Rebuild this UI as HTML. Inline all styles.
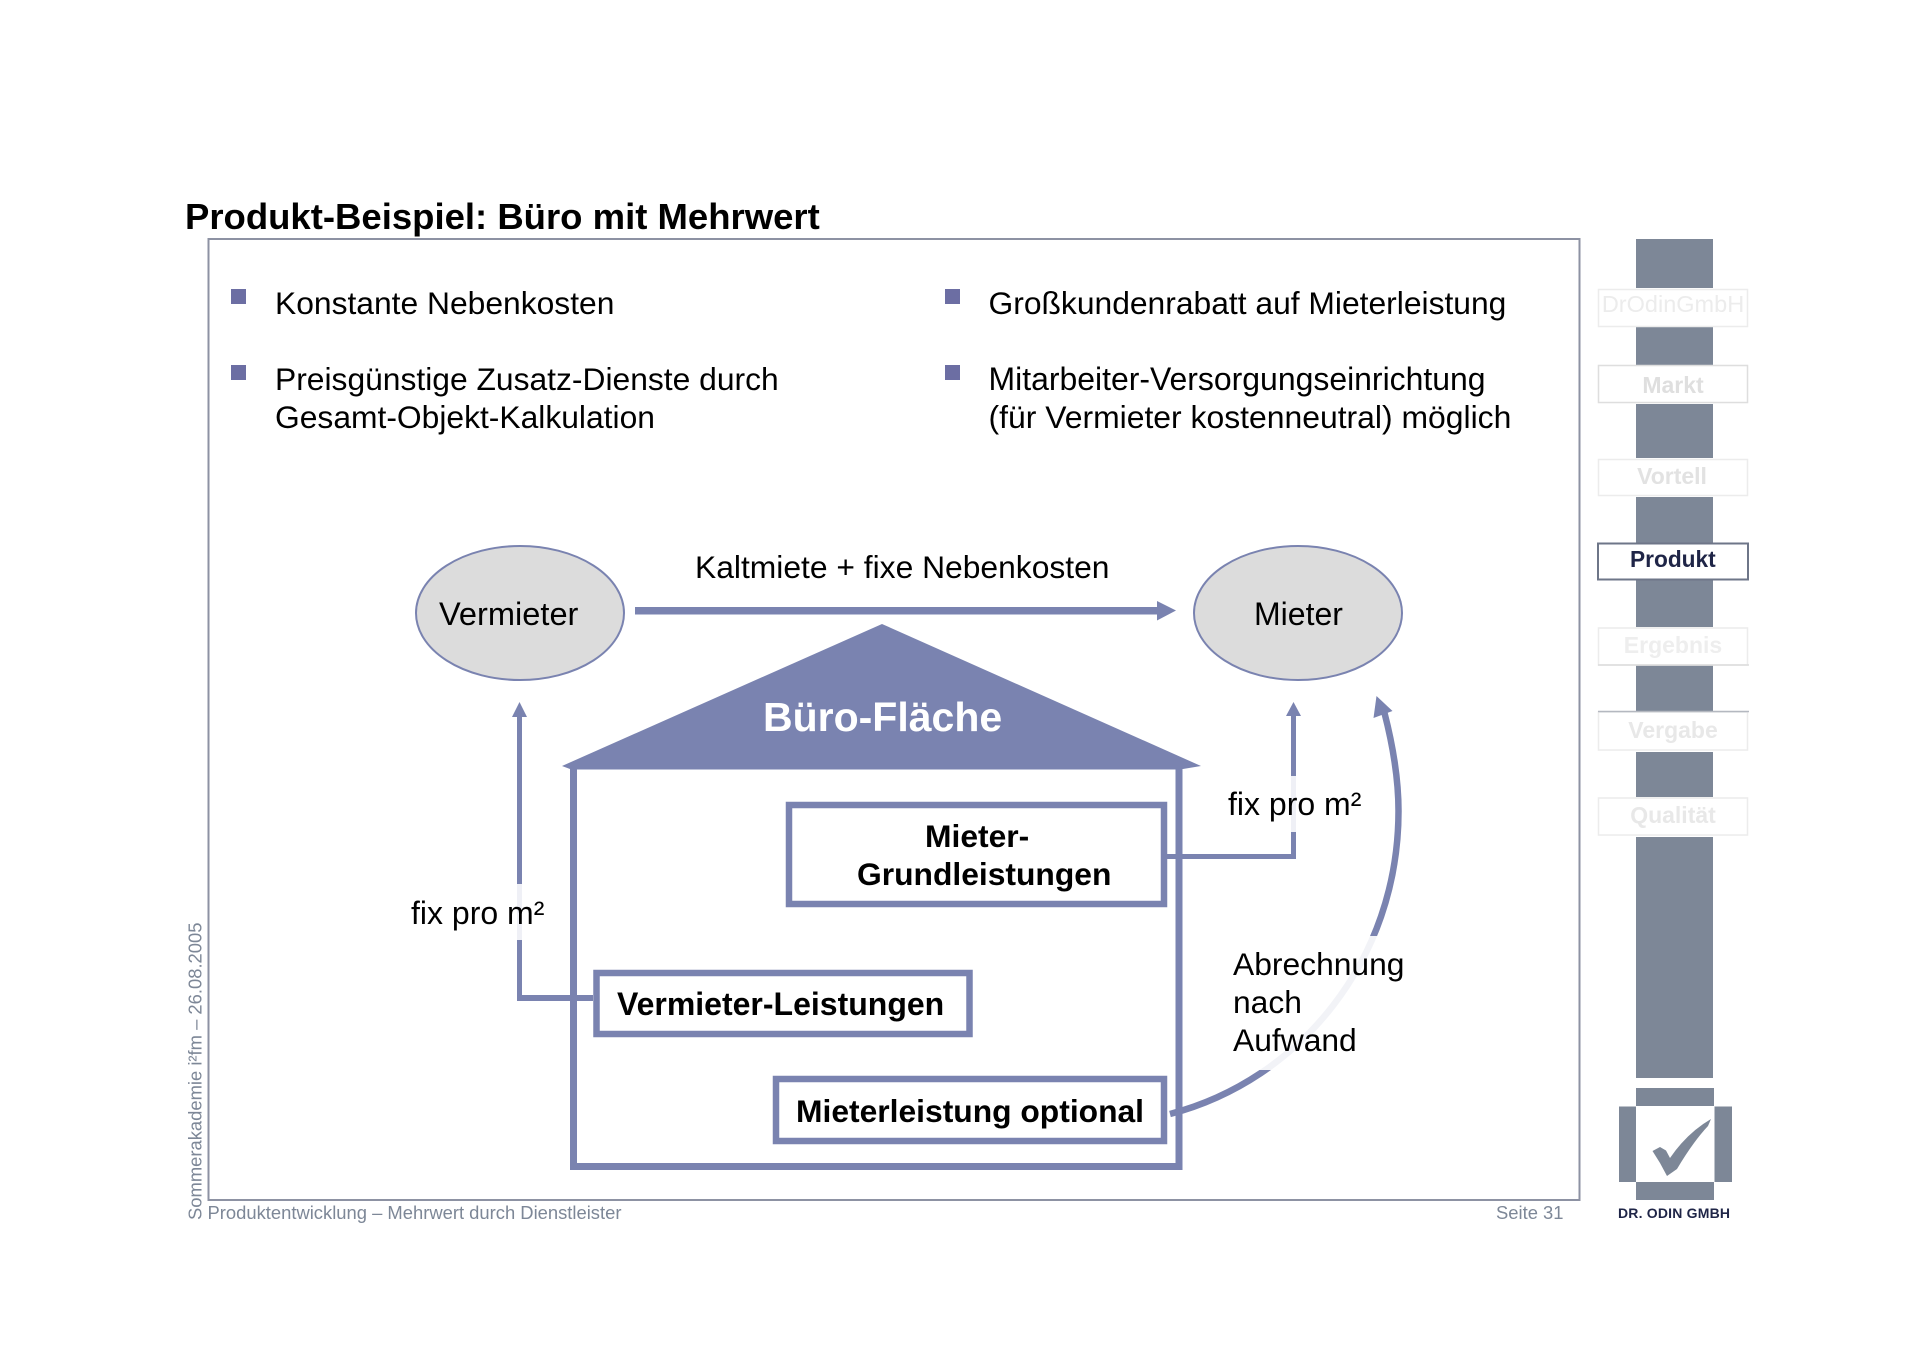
<!DOCTYPE html>
<html lang="de">
<head>
<meta charset="utf-8">
<title>Produkt-Beispiel: Büro mit Mehrwert</title>
<style>
html,body{margin:0;padding:0;background:#fff;width:1920px;height:1357px;overflow:hidden}
svg{display:block}
text{font-family:"Liberation Sans",Arial,sans-serif;fill:#000}
.b{font-weight:bold}
.t{font-size:31.8px}
.g{fill:#7d8797}
.f{font-size:23px;font-weight:bold;fill:#e6e6e6;text-anchor:middle}
</style>
</head>
<body>
<svg width="1920" height="1357" viewBox="0 0 1920 1357" xmlns="http://www.w3.org/2000/svg">
<rect width="1920" height="1357" fill="#fff"/>

<!-- title and frame -->
<text class="b" x="185" y="229" font-size="36.5px">Produkt-Beispiel: Büro mit Mehrwert</text>
<rect x="208.5" y="239" width="1371" height="961" fill="#fff" stroke="#8d92a3" stroke-width="2"/>

<!-- bullets -->
<g fill="#6c6ea3">
<rect x="231" y="289" width="15" height="15"/>
<rect x="231" y="365" width="15" height="15"/>
<rect x="945" y="289" width="15" height="15"/>
<rect x="945" y="365" width="15" height="15"/>
</g>
<text class="t" x="275" y="314">Konstante Nebenkosten</text>
<text class="t" x="275" y="390">Preisgünstige Zusatz-Dienste durch</text>
<text class="t" x="275" y="428">Gesamt-Objekt-Kalkulation</text>
<text class="t" x="988.5" y="314">Großkundenrabatt auf Mieterleistung</text>
<text x="988.5" y="390" font-size="31.95px">Mitarbeiter-Versorgungseinrichtung</text>
<text x="988.5" y="428" font-size="31.9px">(für Vermieter kostenneutral) möglich</text>

<!-- ellipses -->
<ellipse cx="520" cy="613" rx="104" ry="67" fill="#dcdcdc" stroke="#7a83b0" stroke-width="2"/>
<ellipse cx="1298" cy="613" rx="104" ry="67" fill="#dcdcdc" stroke="#7a83b0" stroke-width="2"/>
<text x="439" y="625" font-size="32.6px">Vermieter</text>
<text x="1254" y="625" font-size="32px">Mieter</text>

<!-- top arrow -->
<rect x="635" y="607" width="525" height="7.5" fill="#7a83b0"/>
<polygon points="1157,601 1176,610.5 1157,620.5" fill="#7a83b0"/>
<text class="t" x="695" y="578">Kaltmiete + fixe Nebenkosten</text>

<!-- house -->
<polygon points="882,624 1201,766 1183,769 570,769 562,766" fill="#7a83b0"/>
<rect x="573.5" y="766" width="605.5" height="400.5" fill="none" stroke="#7a83b0" stroke-width="7"/>
<text class="b" x="763" y="731" font-size="41px" style="fill:#fff">Büro-Fläche</text>

<!-- inner boxes -->
<rect x="789" y="805" width="375" height="99" fill="#fff" stroke="#7a83b0" stroke-width="6.5"/>
<rect x="596.5" y="973" width="373" height="61" fill="#fff" stroke="#7a83b0" stroke-width="6.5"/>
<rect x="776" y="1079" width="388" height="62" fill="#fff" stroke="#7a83b0" stroke-width="6.5"/>
<text class="b t" x="925" y="847">Mieter-</text>
<text class="b t" x="857" y="885">Grundleistungen</text>
<text class="b" x="617" y="1015" font-size="32px">Vermieter-Leistungen</text>
<text class="b t" x="796" y="1122">Mieterleistung optional</text>

<!-- left connector -->
<rect x="517" y="716" width="5" height="285" fill="#7a83b0"/>
<rect x="517" y="995" width="76" height="6" fill="#7a83b0"/>
<polygon points="519.5,702 527,717 512,717" fill="#7a83b0"/>
<rect x="510" y="884" width="20" height="56" fill="#fff" opacity=".88"/>
<text x="411" y="924" font-size="32px">fix pro m²</text>

<!-- right connector -->
<rect x="1291" y="715" width="5" height="143" fill="#7a83b0"/>
<rect x="1167" y="854" width="129" height="5" fill="#7a83b0"/>
<polygon points="1293.5,702 1301,716 1286,716" fill="#7a83b0"/>
<rect x="1285" y="776" width="20" height="56" fill="#fff" opacity=".88"/>
<text x="1228" y="815" font-size="32px">fix pro m²</text>

<!-- curved arrow -->
<path d="M1170,1114 C1300,1080 1398.5,960 1398.5,811 C1398.5,778 1393,746 1384.5,713" fill="none" stroke="#7a83b0" stroke-width="6.5"/>
<polygon points="1376.5,696 1392.5,711 1373.5,718" fill="#7a83b0"/>
<rect x="1225" y="936" width="190" height="134" fill="#fff" opacity=".9"/>
<text class="t" x="1233" y="975">Abrechnung</text>
<text class="t" x="1233" y="1013">nach</text>
<text class="t" x="1233" y="1051">Aufwand</text>

<!-- footer -->
<text x="207.5" y="1219" font-size="18.4px" style="fill:#7d8797">Produktentwicklung – Mehrwert durch Dienstleister</text>
<text x="1496" y="1219" font-size="18.4px" style="fill:#7d8797">Seite 31</text>
<text transform="translate(201.5,1220) rotate(-90)" font-size="18.4px" style="fill:#7d8797">Sommerakademie i²fm – 26.08.2005</text>

<!-- sidebar bar -->
<g fill="#7d8797">
<rect x="1636" y="239" width="77" height="49"/>
<rect x="1636" y="327" width="77" height="38"/>
<rect x="1636" y="404" width="77" height="54"/>
<rect x="1636" y="497" width="77" height="46"/>
<rect x="1636" y="580" width="77" height="47"/>
<rect x="1636" y="665" width="77" height="46"/>
<rect x="1636" y="752" width="77" height="45"/>
<rect x="1636" y="837" width="77" height="241"/>
</g>

<!-- sidebar boxes -->
<g fill="#fff" stroke="#ececec" stroke-width="1.5">
<rect x="1598.5" y="289.5" width="149" height="37"/>
<rect x="1598.5" y="365.5" width="149" height="37" stroke="#dedede"/>
<rect x="1598.5" y="459.5" width="149" height="36"/>
<rect x="1598.5" y="628" width="149" height="37"/>
<rect x="1598.5" y="712" width="149" height="38"/>
<rect x="1598.5" y="798" width="149" height="37"/>
</g>
<line x1="1598" y1="711.5" x2="1749" y2="711.5" stroke="#b4b8c0" stroke-width="1.5"/>
<line x1="1598" y1="665" x2="1749" y2="665" stroke="#dcdcdc" stroke-width="1.5"/>
<rect x="1598" y="543.5" width="150" height="36" fill="#fff" stroke="#6e7688" stroke-width="2"/>
<text class="f" x="1673" y="312" style="font-weight:normal;font-size:23.5px;fill:#ececec">DrOdinGmbH</text>
<text class="f" x="1673" y="393" style="fill:#dfdfdf">Markt</text>
<text class="f" x="1672" y="484" style="fill:#e2e2e2">Vortell</text>
<text class="b" x="1630" y="567" font-size="22.7px" style="fill:#1f2547">Produkt</text>
<text class="f" x="1673" y="653" style="fill:#eeeeee">Ergebnis</text>
<text class="f" x="1673" y="738" style="fill:#e8e8e8">Vergabe</text>
<text class="f" x="1673" y="823" style="fill:#e8e8e8">Qualität</text>

<!-- logo -->
<g fill="#7d8797">
<rect x="1636" y="1088" width="78" height="18"/>
<rect x="1636" y="1182" width="78" height="18"/>
<rect x="1619" y="1106.5" width="17" height="75.5"/>
<rect x="1714.5" y="1106.5" width="17.5" height="75.5"/>
<path d="M1652.5,1151 L1660,1147 L1666,1150.5 L1670,1158 Q1687,1133 1711,1119 L1708,1126 Q1693,1142 1677,1169 L1667,1176 L1660,1163 Z"/>
</g>
<text class="b" x="1618" y="1218" font-size="14px" textLength="112" lengthAdjust="spacing" style="fill:#1f2547">DR. ODIN GMBH</text>
</svg>
</body>
</html>
